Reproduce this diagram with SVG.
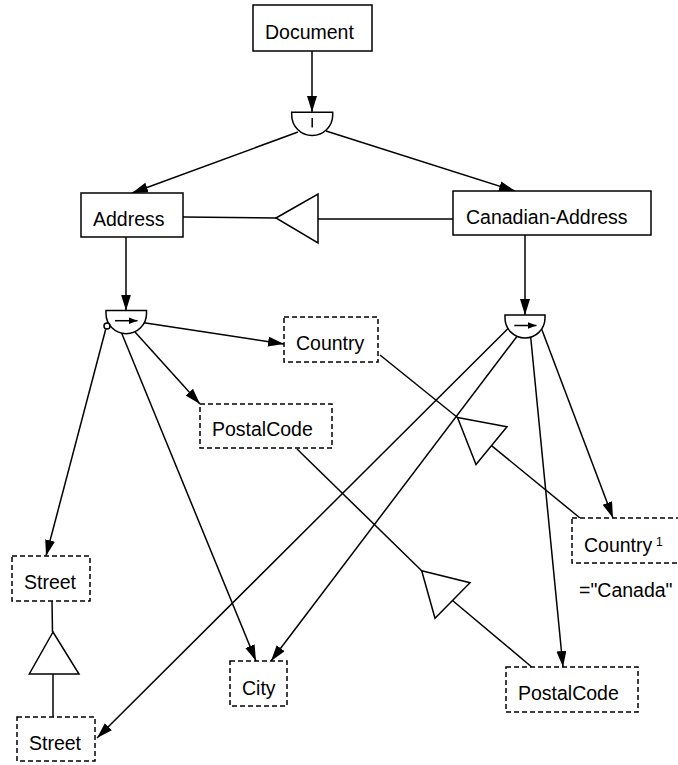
<svg xmlns="http://www.w3.org/2000/svg" width="678" height="765" viewBox="0 0 678 765">
<style>
  .box { fill: #fff; stroke: #000; stroke-width: 1.5; }
  .dbox { fill: #fff; stroke: #000; stroke-width: 1.5; stroke-dasharray: 5 3; }
  .lbl { font-family: "Liberation Sans", Arial, sans-serif; font-size: 19.5px; fill: #000; }
  .sup { font-family: "Liberation Sans", Arial, sans-serif; font-size: 12px; fill: #000; }
  .ln { fill: none; stroke: #000; stroke-width: 1.5; }
  .arr { fill: none; stroke: #000; stroke-width: 1.5; marker-end: url(#ah); }
  .tri { fill: #fff; stroke: #000; stroke-width: 1.5; stroke-linejoin: miter; }
  .sym { fill: #fff; stroke: #000; stroke-width: 1.5; }
  .sarr { fill: none; stroke: #000; stroke-width: 1.5; marker-end: url(#sah); }
</style>
<defs>
  <marker id="ah" markerUnits="userSpaceOnUse" markerWidth="17" markerHeight="11" refX="16" refY="5" orient="auto">
    <path d="M0,0 L16,5 L0,10 z" fill="#000"/>
  </marker>
  <marker id="sah" markerUnits="userSpaceOnUse" markerWidth="10" markerHeight="8" refX="9" refY="3.5" orient="auto">
    <path d="M0,0 L9,3.5 L0,7 z" fill="#000"/>
  </marker>
</defs>
<rect width="678" height="765" fill="#fff"/>
<g id="connectors">
  <line class="arr" x1="312" y1="51" x2="312" y2="112"/>
  <line class="arr" x1="298" y1="132" x2="132" y2="193"/>
  <line class="arr" x1="326" y1="131" x2="515" y2="191"/>
  <line class="arr" x1="126" y1="237" x2="126" y2="310.5"/>
  <line class="arr" x1="525" y1="235" x2="525" y2="315"/>
  <line class="arr" x1="144" y1="322.7" x2="284" y2="344"/>
  <line class="arr" x1="135" y1="332" x2="200" y2="404"/>
  <line class="arr" x1="105.7" y1="329.3" x2="46" y2="556"/>
  <line class="arr" x1="121.7" y1="333.3" x2="256" y2="661"/>
  <line class="arr" x1="508.3" y1="328.3" x2="97" y2="738"/>
  <line class="arr" x1="516.7" y1="336.7" x2="271" y2="661"/>
  <line class="arr" x1="530.7" y1="337.3" x2="563" y2="667"/>
  <line class="arr" x1="541.7" y1="329.3" x2="613" y2="518"/>
  <!-- generalization Canadian-Address -> Address -->
  <line class="ln" x1="183" y1="217" x2="276" y2="218"/>
  <line class="ln" x1="318" y1="219" x2="453" y2="219"/>
  <polygon class="tri" points="276,218 318,194 318,243"/>
  <!-- generalization Country(Canada) -> Country -->
  <line class="ln" x1="380" y1="355" x2="457.5" y2="417.5"/>
  <line class="ln" x1="491.5" y1="445.6" x2="580" y2="518"/>
  <polygon class="tri" points="457.5,417.5 507,426.7 476,464.5"/>
  <!-- generalization PostalCode -> PostalCode -->
  <line class="ln" x1="297" y1="449" x2="421.7" y2="570.7"/>
  <line class="ln" x1="452.5" y1="600.5" x2="531.7" y2="667"/>
  <polygon class="tri" points="421.7,570.7 470,582.7 435,618.3"/>
  <!-- generalization Street -> Street -->
  <line class="ln" x1="53" y1="717" x2="53" y2="674"/>
  <line class="ln" x1="52.5" y1="632" x2="52" y2="601"/>
  <polygon class="tri" points="53,632 29.3,674 79,674"/>
</g>
<g id="choice-symbol">
  <path class="sym" d="M291.7,112.3 H332.7 V115 A20.5,20.5 0 0 1 291.7,115 Z"/>
  <line class="ln" x1="312.2" y1="118" x2="312.2" y2="127.5"/>
</g>
<g id="seq-address">
  <path class="sym" d="M106,310.5 H146.5 V313.5 A20.25,20.25 0 0 1 106,313.5 Z"/>
  <line class="sarr" x1="115" y1="320.7" x2="137.5" y2="320.7"/>
  <circle class="sym" cx="107" cy="326" r="3"/>
</g>
<g id="seq-canadian">
  <path class="sym" d="M505,315 H545 V318 A20,20 0 0 1 505,318 Z"/>
  <line class="sarr" x1="514.3" y1="325.5" x2="536.5" y2="325.5"/>
</g>
<g id="node-document">
  <rect class="box" x="253" y="5" width="119" height="46"/>
  <text class="lbl" x="265" y="39">Document</text>
</g>
<g id="node-address">
  <rect class="box" x="81" y="193" width="102" height="44"/>
  <text class="lbl" x="93" y="226">Address</text>
</g>
<g id="node-canadian-address">
  <rect class="box" x="453" y="191" width="198" height="44"/>
  <text class="lbl" x="466" y="224">Canadian-Address</text>
</g>
<g id="node-country">
  <rect class="dbox" x="284" y="317" width="94" height="45"/>
  <text class="lbl" x="296" y="350">Country</text>
</g>
<g id="node-postalcode-1">
  <rect class="dbox" x="200" y="404" width="132" height="44"/>
  <text class="lbl" x="212" y="436">PostalCode</text>
</g>
<g id="node-country-canada">
  <rect class="dbox" x="572" y="518" width="118" height="45"/>
  <text class="lbl" x="584" y="552">Country</text>
  <text class="sup" x="656" y="546">1</text>
  <text class="lbl" x="579" y="597">="Canada"</text>
</g>
<g id="node-street-1">
  <rect class="dbox" x="12" y="556" width="78" height="45"/>
  <text class="lbl" x="24" y="589">Street</text>
</g>
<g id="node-street-2">
  <rect class="dbox" x="17" y="717" width="78" height="44"/>
  <text class="lbl" x="29" y="750">Street</text>
</g>
<g id="node-city">
  <rect class="dbox" x="230" y="661" width="57" height="45"/>
  <text class="lbl" x="242" y="695">City</text>
</g>
<g id="node-postalcode-2">
  <rect class="dbox" x="506" y="667" width="132" height="45"/>
  <text class="lbl" x="518" y="700">PostalCode</text>
</g>
</svg>
